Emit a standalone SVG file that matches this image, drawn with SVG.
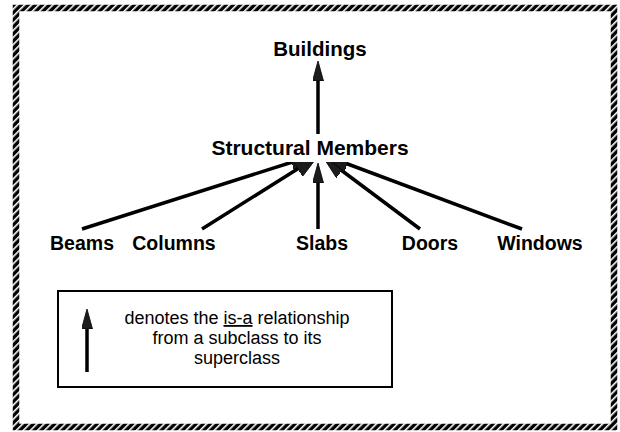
<svg xmlns="http://www.w3.org/2000/svg" width="620" height="432" viewBox="0 0 620 432">
  <defs>
    <pattern id="hatch" patternUnits="userSpaceOnUse" width="5" height="5" patternTransform="rotate(45)">
      <rect width="5" height="5" fill="#000"/>
      <rect x="0" y="0" width="1.6" height="5" fill="#fff"/>
    </pattern>
    <marker id="arr" viewBox="0 0 24 18" refX="11" refY="9" markerWidth="24" markerHeight="18" markerUnits="userSpaceOnUse" orient="auto">
      <path d="M0,0 L24,9 L0,18 z" fill="#1c1c1c" stroke="#000" stroke-width="0.8"/>
    </marker>
    <marker id="arrs" viewBox="0 0 20 11" refX="9" refY="5.5" markerWidth="20" markerHeight="11" markerUnits="userSpaceOnUse" orient="auto">
      <path d="M0,0 L20,5.5 L0,11 z" fill="#1c1c1c" stroke="#000" stroke-width="0.8"/>
    </marker>
    <style>
      .lbl { font-family: "Liberation Sans", Arial, sans-serif; font-weight: bold; font-size: 19.5px; fill: #000; text-anchor: middle; }
      .leg { font-family: "Liberation Sans", Arial, sans-serif; font-size: 18px; fill: #000; text-anchor: middle; }
      .edge { stroke: #000; stroke-width: 3.5; fill: none; marker-end: url(#arr); }
      .edge.v { marker-end: url(#arrs); }
    </style>
  </defs>

  <rect x="0" y="0" width="620" height="432" fill="#fff"/>
  <rect id="frame" x="16" y="8" width="598" height="419" fill="none" stroke="url(#hatch)" stroke-width="6.5"/>

  <g id="connectors">
    <line class="edge v" x1="318" y1="134" x2="318" y2="72"/>
    <line class="edge" x1="82" y1="229" x2="302" y2="159"/>
    <line class="edge" x1="202" y1="229" x2="307" y2="163"/>
    <line class="edge v" x1="318" y1="229" x2="318" y2="174"/>
    <line class="edge" x1="420" y1="229" x2="333" y2="164"/>
    <line class="edge" x1="522" y1="229" x2="337" y2="160"/>
  </g>

  <g id="buildings">
    <text class="lbl" x="320" y="56" style="font-size:20.5px">Buildings</text>
  </g>
  <g id="structural-members">
    <rect x="205" y="134" width="210" height="28" fill="#fff"/>
    <text class="lbl" x="310" y="155" style="font-size:21px">Structural Members</text>
  </g>
  <g id="beams"><text class="lbl" x="82" y="250">Beams</text></g>
  <g id="columns"><text class="lbl" x="174" y="250">Columns</text></g>
  <g id="slabs"><text class="lbl" x="322" y="250">Slabs</text></g>
  <g id="doors"><text class="lbl" x="430" y="250">Doors</text></g>
  <g id="windows"><text class="lbl" x="540" y="250">Windows</text></g>

  <g id="legend">
    <rect x="58" y="291" width="334" height="96" fill="#fff" stroke="#000" stroke-width="2"/>
    <line class="edge v" x1="87" y1="372" x2="87" y2="320"/>
    <text class="leg" x="237" y="324">denotes the <tspan text-decoration="underline">is-a</tspan> relationship</text>
    <text class="leg" x="237" y="344">from a subclass to its</text>
    <text class="leg" x="237" y="364">superclass</text>
  </g>
</svg>
